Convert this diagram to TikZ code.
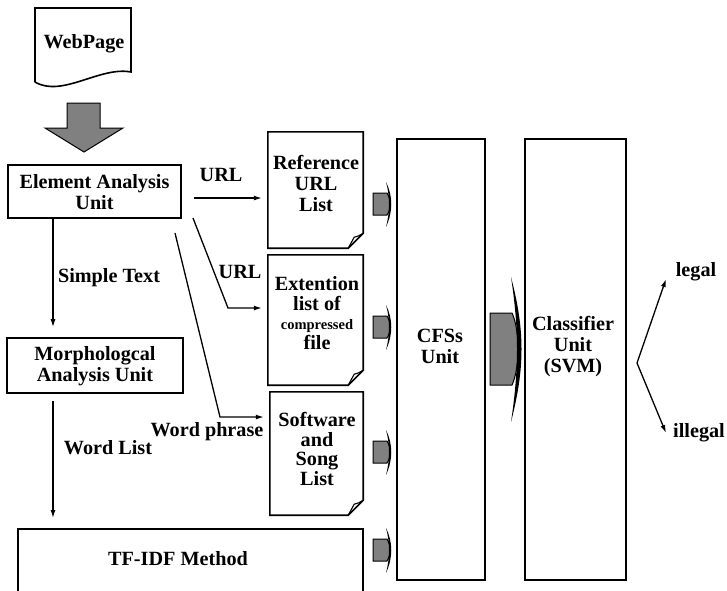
\documentclass[tikz,border=0pt]{standalone}
\usepackage{fontspec}
\setmainfont{Liberation Serif}
\usetikzlibrary{arrows.meta,calc}
\definecolor{arrgray}{RGB}{128,128,128}
\newcommand\docoutline[1]{%
  \draw[boxline] (#1.north west) -- (#1.north east) -- ([yshift=15pt]#1.south east)
    -- ([xshift=-15pt]#1.south east) -- (#1.south west) -- cycle;
  \draw[line width=1.1pt] ([yshift=15pt]#1.south east) .. controls ([xshift=-5pt,yshift=12pt]#1.south east) .. ([xshift=-9pt,yshift=11pt]#1.south east) -- ([xshift=-15pt]#1.south east);
}
\tikzset{
  boxline/.style={line width=1.6pt},
  box/.style={draw, boxline, align=center, inner sep=0pt},
  area/.style={draw=none, inner sep=0pt},
  lbl/.style={font=\fontsize{20.2}{21}\selectfont\bfseries, align=center, inner sep=0pt},
  arr/.style={line width=1.3pt, -{Latex[length=8pt,width=5pt]}},
  smarr/.pic={
    \fill[arrgray, draw=black, line width=1pt] (0,-11) -- (14,-11) .. controls (18,-5) and (18,5) .. (14,11) -- (0,11) -- cycle;
    \fill[black] (13,-22) .. controls (20,-8) and (20,8) .. (13,23) .. controls (17,8) and (17,-8) .. (13,-22) -- cycle;
  }
}
\begin{document}
\begin{tikzpicture}[x=1pt,y=-1pt]
\useasboundingbox (0,0) rectangle (727,590);
\fill[white] (0,0) rectangle (727,590);

% WebPage
\node[area, minimum width=96pt, minimum height=80pt] (wpa) at (83,47) {};
\draw[boxline] (35,82) -- (35,8) -- (131,8) -- (131,72) .. controls (100,66) and (62,98) .. (35,82);
\node[lbl] (wp) at (84,44) {WebPage};

% big down arrow
\fill[arrgray, draw=black, line width=1pt] (67,103) -- (100,103) -- (100,128) -- (123,128) -- (84,152) -- (45,128) -- (67,128) -- cycle;

% left boxes
\node[box, minimum width=173pt, minimum height=53pt] (ea) at (94.5,191.5) {};
\node[lbl] (eat) at (94.5,192) {Element Analysis\\Unit};
\node[box, minimum width=176pt, minimum height=55pt] (ma) at (95,365.5) {};
\node[lbl] (mat) at (95,366) {Morphologcal\\Analysis Unit};
\draw[boxline] (18,592) -- (18,529) -- (363,529) -- (363,592);
\node[lbl] (tf) at (178,559) {TF-IDF Method};

% document shapes
\node[area, minimum width=95pt, minimum height=116pt] (ref) at (315.5,190) {};
\docoutline{ref}
\node[lbl] (reft) at (316,183) {Reference\\URL\\List};
\node[area, minimum width=95pt, minimum height=130pt] (ext) at (315.5,320) {};
\docoutline{ext}
\node[lbl, font=\fontsize{20.2}{19.5}\selectfont\bfseries] (extt) at (317,313) {Extention\\list of\\{\fontsize{14.5}{19.5}\selectfont compressed}\\file};
\node[area, minimum width=93pt, minimum height=123pt] (sw) at (316.5,453.5) {};
\docoutline{sw}
\node[lbl, font=\fontsize{20.2}{19.5}\selectfont\bfseries] (swt) at (317,449) {Software\\and\\Song\\List};

% CFS and classifier
\node[box, minimum width=88pt, minimum height=441pt] (cfs) at (441,359.5) {};
\node[lbl] (cfst) at (440,346) {CFSs\\Unit};
\node[box, minimum width=101pt, minimum height=441pt] (cls) at (575.5,359.5) {};
\node[lbl] (clst) at (573,347) {Classifier\\Unit\\(SVM)};

% small block arrows
\pic at (373,204) {smarr};
\pic at (373,327) {smarr};
\pic at (373,452) {smarr};
\pic at (373,550) {smarr};

% big block arrow
\fill[arrgray, draw=black, line width=1pt] (490,313) -- (512,313) .. controls (520,330) and (520,368) .. (512,385) -- (490,385) -- cycle;
\fill[black] (511,277) .. controls (525,330) and (525,368) .. (511,422) .. controls (519,368) and (519,330) .. (511,277) -- cycle;

% connectors
\coordinate (u1) at (194,198);
\draw[arr] (u1) -- ([xshift=-6pt]u1 -| ref.west);
\node[lbl] (l1) at (221,175) {URL};
\coordinate (u2) at (193,218);
\coordinate (u2b) at (228,308);
\draw[arr] (u2) -- (u2b) -- ([xshift=-6pt]u2b -| ext.west);
\node[lbl] (l2) at (240,272) {URL};
\coordinate (u3) at (175,233);
\coordinate (u3b) at (220,417);
\draw[arr] (u3) -- (u3b) -- ([xshift=-6pt]u3b -| sw.west);
\node[lbl] (l3) at (207,432) {Word phrase};

\draw[arr] (ea.south -| 53,0) -- ([yshift=10pt]ma.north -| 53,0);
\node[lbl] (l4) at (109,278) {Simple Text};
\draw[arr] ([yshift=-7pt]ma.south -| 53,0) -- (53,518);
\node[lbl] (l5) at (108,448) {Word List};

\coordinate (c0) at (637,363);
\node[lbl] (lg) at (696,272) {legal};
\node[lbl] (il) at (699,433) {illegal};
\draw[arr] (c0) -- (666,279);
\draw[arr] (c0) -- (666,433);
\end{tikzpicture}
\end{document}
